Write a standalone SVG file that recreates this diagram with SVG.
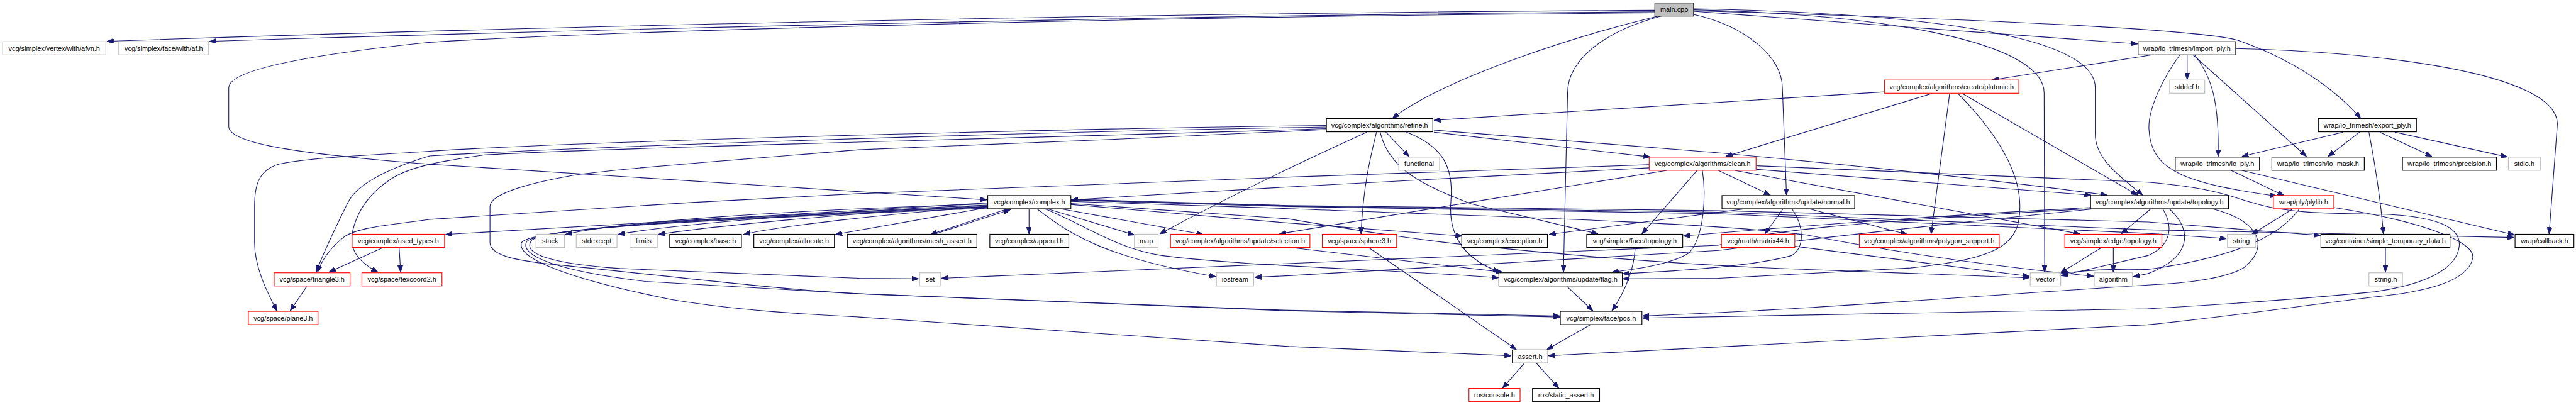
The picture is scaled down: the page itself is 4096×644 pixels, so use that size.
<svg xmlns="http://www.w3.org/2000/svg" width="4096" height="644" viewBox="0 0 4096 644">
<defs>
<style>
.node rect{fill:#ffffff;stroke:#000000;stroke-width:1.4}
.red rect{stroke:#ff0000}
.gray rect{stroke:#bfbfbf}
.main rect{fill:#bfbfbf}
.node text{font-family:"Liberation Sans",Arial,Helvetica,sans-serif;font-size:13.33px;text-anchor:middle;fill:#000000}
#edges path{fill:none;stroke:#191970;stroke-width:1.35;marker-end:url(#ah)}
</style>
<marker id="ah" viewBox="0 0 13 10" refX="13" refY="5" markerWidth="13" markerHeight="10" markerUnits="userSpaceOnUse" orient="auto"><path d="M0,0 L13,5 L0,10 z" fill="#191970" stroke="#191970" stroke-width="1"/></marker>
</defs>
<rect x="0" y="0" width="4096" height="644" fill="#ffffff"/>
<g transform="scale(0.821)">
<g id="edges">
<path id="e1" d="M3205,20 C2400,24 1200,45 207,80"/>
<path id="e2" d="M3205,23 C2400,28 1300,52 406,80"/>
<path id="e3" d="M3205,25 C2300,31 1200,58 832,82 C560,110 443,140 443,170 L443,245 C443,280 600,300 832,318 L1911,387"/>
<path id="e4" d="M3212,31 C3050,70 2800,150 2697,229"/>
<path id="e5" d="M3218,31 C3100,62 3036,120 3036,180 L3028,527"/>
<path id="e6" d="M3280,28 C3380,50 3452,110 3452,170 L3460,378"/>
<path id="e7" d="M3280,22 L4140,85"/>
<path id="e8" d="M3280,19 C3700,30 3959,90 3959,180 L3960,527"/>
<path id="e9" d="M3280,17 C3850,28 4058,90 4058,170 L4058,260 C4058,310 4110,345 4150,378"/>
<path id="e10" d="M3280,21 C3800,36 4250,55 4334,78 C4440,115 4520,170 4572,229"/>
<path id="e11" d="M4170,106 L3858,155"/>
<path id="e12" d="M4236,106 L4236,154"/>
<path id="e13" d="M4250,106 C4285,150 4298,200 4296,303"/>
<path id="e14" d="M4247,106 L4467,303"/>
<path id="e15" d="M4222,106 C4190,150 4160,210 4162,250 C4165,330 4230,355 4410,380"/>
<path id="e16" d="M4330,94 C4600,100 4952,140 4953,240 L4937,453"/>
<path id="e17" d="M3650,178 L2777,233"/>
<path id="e18" d="M3742,181 L3342,303"/>
<path id="e19" d="M3776,181 L3740,453"/>
<path id="e20" d="M3792,181 C3850,240 3912,320 3912,400 C3912,470 3880,500 3700,519 L3328,539 L3143,540"/>
<path id="e21" d="M3800,181 L4140,378"/>
<path id="e22" d="M2684,256 L2729,303"/>
<path id="e23" d="M2777,256 L3196,304"/>
<path id="e24" d="M2777,252 L3328,296 C3500,312 3800,340 4081,378"/>
<path id="e25" d="M2569,243 C2000,250 1100,275 832,293 C700,302 600,305 540,318 C500,330 493,360 493,400 L493,470 C493,520 520,570 536,602"/>
<path id="e26" d="M2569,246 C2000,255 1100,285 832,302 C740,330 690,360 674,392 C655,430 635,470 612,527"/>
<path id="e27" d="M2569,249 C2100,265 1200,285 938,300 C870,310 800,320 760,345 C720,370 700,400 690,425 C672,470 680,500 732,527"/>
<path id="e28" d="M2569,251 C2300,265 1900,280 1664,290 C1400,312 1150,330 1097,342 C1000,360 949,380 949,400 L949,470 C949,495 1000,505 1071,512 C1300,535 1500,560 1664,569 L2496,602 L3021,614"/>
<path id="e29" d="M2666,256 C2655,300 2640,360 2636,453"/>
<path id="e30" d="M2647,256 C2550,300 2400,370 2246,453"/>
<path id="e31" d="M2724,256 C2800,285 2815,330 2810,390 C2805,450 2830,500 2905,527"/>
<path id="e32" d="M2673,256 C2690,330 2760,360 2850,395 L3095,453"/>
<path id="e33" d="M3194,325 L2496,362 L2075,387"/>
<path id="e34" d="M3194,319 L2496,343 L1664,375 L1341,392 L832,425 C760,435 690,440 665,460 C640,480 625,500 615,527"/>
<path id="e35" d="M3328,330 L3429,378"/>
<path id="e36" d="M3228,330 L2846,392 L2478,453"/>
<path id="e37" d="M3287,330 L3180,453"/>
<path id="e38" d="M3297,330 C3305,380 3300,460 3271,490 C3240,510 3180,520 3122,527"/>
<path id="e39" d="M3401,328 L4050,378"/>
<path id="e40" d="M3360,330 L4028,453"/>
<path id="e41" d="M3401,321 L4160,353 C4300,365 4330,385 4361,392 C4420,412 4500,414 4620,415 C4720,420 4765,440 4763,475 C4760,520 4700,550 4600,565 C4450,580 4300,590 4160,598 L3181,616"/>
<path id="e42" d="M1913,393 L863,454"/>
<path id="e43" d="M1913,395 C1500,408 1200,430 1095,454"/>
<path id="e44" d="M1913,397 C1600,410 1300,435 1197,454"/>
<path id="e45" d="M1913,398 C1650,412 1380,438 1275,454"/>
<path id="e46" d="M1913,400 C1700,415 1500,440 1440,454"/>
<path id="e47" d="M1913,402 L1618,454"/>
<path id="e48" d="M1950,405 L1802,454"/>
<path id="e49" d="M1808,454 L1957,406"/>
<path id="e50" d="M1993,405 L1993,453"/>
<path id="e51" d="M2030,405 L2197,455"/>
<path id="e52" d="M2057,405 L2330,454"/>
<path id="e53" d="M2009,405 C2080,460 2150,500 2355,536"/>
<path id="e54" d="M2025,405 C2110,440 2160,480 2250,495 C2400,515 2700,522 2902,538"/>
<path id="e55" d="M2074,396 L2496,432 L2832,457"/>
<path id="e56" d="M2074,394 L2496,424 C2650,450 2780,470 2900,480 C3100,500 3300,515 3500,522 L3930,538"/>
<path id="e57" d="M2074,390 L2496,404 C2900,420 3300,430 3498,455 C3600,475 3800,510 4055,535"/>
<path id="e58" d="M2074,388 L2496,400 L3328,414 L4160,452 L4312,462"/>
<path id="e59" d="M2074,386 L2496,398 L3328,408 L4160,430 L4494,456"/>
<path id="e60" d="M2074,387 L2496,399 L3328,411 L4160,445 L4869,460"/>
<path id="e61" d="M1913,400 C1400,420 1060,440 1030,465 C1010,490 1060,510 1200,520 L1664,539 L1779,540"/>
<path id="e62" d="M1913,403 C1400,425 1030,440 1010,470 C1000,500 1100,540 1300,580 C1450,605 1600,610 1664,614 L2496,671 L2927,689"/>
<path id="e63" d="M1913,401 C1400,423 1045,440 1020,468 C1005,495 1080,525 1250,545 L1664,569 L2496,601 L3021,612"/>
<path id="e64" d="M3453,405 L3418,453"/>
<path id="e65" d="M3506,405 L3694,454"/>
<path id="e66" d="M3376,405 L3000,454"/>
<path id="e67" d="M3471,405 C3495,440 3495,480 3470,495 C3400,515 3250,525 3143,530"/>
<path id="e68" d="M4165,405 L4108,453"/>
<path id="e69" d="M4049,402 C3700,420 3400,445 3260,457"/>
<path id="e70" d="M4050,404 C3600,430 3418,445 3328,475 L1823,539"/>
<path id="e71" d="M4052,405 C3700,440 3450,470 3328,485 L2496,534 L2430,537"/>
<path id="e72" d="M4189,405 C4210,440 4205,475 4160,495 L3992,534"/>
<path id="e73" d="M4202,405 C4250,450 4240,500 4160,530 L4131,536"/>
<path id="e74" d="M4287,405 C4380,430 4395,480 4345,519 C4300,545 4200,550 4160,552 C3800,575 3500,600 3181,612"/>
<path id="e75" d="M4440,405 L4361,454"/>
<path id="e76" d="M4453,405 C4420,450 4350,495 4160,522 C4080,520 4030,524 3992,530"/>
<path id="e77" d="M4520,402 C4700,430 4795,470 4789,500 C4780,545 4700,565 4600,575 C4400,600 4300,615 4160,629 L2999,689"/>
<path id="e78" d="M4321,330 L4424,379"/>
<path id="e79" d="M4342,330 L4870,455"/>
<path id="e80" d="M4538,256 L4342,303"/>
<path id="e81" d="M4570,256 L4509,303"/>
<path id="e82" d="M4609,256 L4710,303"/>
<path id="e83" d="M4638,256 L4856,304"/>
<path id="e84" d="M4588,256 C4600,320 4612,400 4616,453"/>
<path id="e85" d="M4620,479 L4620,527"/>
<path id="e86" d="M743,479 L637,527"/>
<path id="e87" d="M773,479 L776,527"/>
<path id="e88" d="M594,555 L562,602"/>
<path id="e89" d="M3035,555 L3085,602"/>
<path id="e90" d="M3167,479 C3165,520 3150,560 3122,602"/>
<path id="e91" d="M3080,629 L2996,677"/>
<path id="e92" d="M2650,479 L2937,677"/>
<path id="e93" d="M2952,704 L2910,752"/>
<path id="e94" d="M2976,704 L3019,752"/>
<path id="e95" d="M4071,479 L3990,529"/>
<path id="e96" d="M4093,479 L4093,527"/>
<path id="e97" d="M3476,477 L3930,535"/>
<path id="e98" d="M2496,479 L2910,527"/>
</g>
<g id="n_main" class="node main"><rect x="3205" y="5.7" width="75" height="25.6"/><text x="3242.5" y="23.3">main.cpp</text></g>
<g id="n_afvn" class="node gray"><rect x="5" y="80.7" width="200" height="25.6"/><text x="105" y="98.3">vcg/simplex/vertex/with/afvn.h</text></g>
<g id="n_af" class="node gray"><rect x="230" y="80.7" width="174" height="25.6"/><text x="317" y="98.3">vcg/simplex/face/with/af.h</text></g>
<g id="n_import" class="node"><rect x="4141" y="80.7" width="189" height="25.6"/><text x="4235.5" y="98.3">wrap/io_trimesh/import_ply.h</text></g>
<g id="n_platonic" class="node red"><rect x="3650" y="155" width="260" height="25.6"/><text x="3780" y="172.6">vcg/complex/algorithms/create/platonic.h</text></g>
<g id="n_stddef" class="node gray"><rect x="4202" y="155" width="68" height="25.6"/><text x="4236" y="172.6">stddef.h</text></g>
<g id="n_refine" class="node"><rect x="2569" y="229.7" width="206" height="25.6"/><text x="2672" y="247.3">vcg/complex/algorithms/refine.h</text></g>
<g id="n_export" class="node"><rect x="4490" y="229.7" width="190" height="25.6"/><text x="4585" y="247.3">wrap/io_trimesh/export_ply.h</text></g>
<g id="n_functional" class="node gray"><rect x="2709" y="304.3" width="79" height="25.6"/><text x="2748.5" y="321.9">functional</text></g>
<g id="n_clean" class="node red"><rect x="3194" y="304.3" width="207" height="25.6"/><text x="3297.5" y="321.9">vcg/complex/algorithms/clean.h</text></g>
<g id="n_io_ply" class="node"><rect x="4213" y="304.3" width="163" height="25.6"/><text x="4294.5" y="321.9">wrap/io_trimesh/io_ply.h</text></g>
<g id="n_io_mask" class="node"><rect x="4400" y="304.3" width="179" height="25.6"/><text x="4489.5" y="321.9">wrap/io_trimesh/io_mask.h</text></g>
<g id="n_precision" class="node"><rect x="4653" y="304.3" width="182" height="25.6"/><text x="4744" y="321.9">wrap/io_trimesh/precision.h</text></g>
<g id="n_stdio" class="node gray"><rect x="4858" y="304.3" width="62" height="25.6"/><text x="4889" y="321.9">stdio.h</text></g>
<g id="n_complex" class="node"><rect x="1913" y="378.7" width="161" height="25.6"/><text x="1993.5" y="396.3">vcg/complex/complex.h</text></g>
<g id="n_normal" class="node"><rect x="3335" y="378.7" width="257" height="25.6"/><text x="3463.5" y="396.3">vcg/complex/algorithms/update/normal.h</text></g>
<g id="n_utopo" class="node"><rect x="4049" y="378.7" width="267" height="25.6"/><text x="4182.5" y="396.3">vcg/complex/algorithms/update/topology.h</text></g>
<g id="n_plylib" class="node red"><rect x="4403" y="378.7" width="117" height="25.6"/><text x="4461.5" y="396.3">wrap/ply/plylib.h</text></g>
<g id="n_used_types" class="node red"><rect x="682" y="453.7" width="179" height="25.6"/><text x="771.5" y="471.3">vcg/complex/used_types.h</text></g>
<g id="n_stack" class="node gray"><rect x="1038" y="453.7" width="55" height="25.6"/><text x="1065.5" y="471.3">stack</text></g>
<g id="n_stdexcept" class="node gray"><rect x="1116" y="453.7" width="79" height="25.6"/><text x="1155.5" y="471.3">stdexcept</text></g>
<g id="n_limits" class="node gray"><rect x="1220" y="453.7" width="53" height="25.6"/><text x="1246.5" y="471.3">limits</text></g>
<g id="n_base" class="node"><rect x="1297" y="453.7" width="139" height="25.6"/><text x="1366.5" y="471.3">vcg/complex/base.h</text></g>
<g id="n_allocate" class="node"><rect x="1460" y="453.7" width="156" height="25.6"/><text x="1538" y="471.3">vcg/complex/allocate.h</text></g>
<g id="n_mesh_assert" class="node"><rect x="1641" y="453.7" width="251" height="25.6"/><text x="1766.5" y="471.3">vcg/complex/algorithms/mesh_assert.h</text></g>
<g id="n_append" class="node"><rect x="1917" y="453.7" width="153" height="25.6"/><text x="1993.5" y="471.3">vcg/complex/append.h</text></g>
<g id="n_map" class="node gray"><rect x="2197" y="453.7" width="46" height="25.6"/><text x="2220" y="471.3">map</text></g>
<g id="n_selection" class="node red"><rect x="2267" y="453.7" width="270" height="25.6"/><text x="2402" y="471.3">vcg/complex/algorithms/update/selection.h</text></g>
<g id="n_sphere3" class="node red"><rect x="2561" y="453.7" width="144" height="25.6"/><text x="2633" y="471.3">vcg/space/sphere3.h</text></g>
<g id="n_exception" class="node"><rect x="2831" y="453.7" width="166" height="25.6"/><text x="2914" y="471.3">vcg/complex/exception.h</text></g>
<g id="n_ftopo" class="node"><rect x="3073" y="453.7" width="186" height="25.6"/><text x="3166" y="471.3">vcg/simplex/face/topology.h</text></g>
<g id="n_matrix44" class="node red"><rect x="3334" y="453.7" width="142" height="25.6"/><text x="3405" y="471.3">vcg/math/matrix44.h</text></g>
<g id="n_polysup" class="node red"><rect x="3601" y="453.7" width="271" height="25.6"/><text x="3736.5" y="471.3">vcg/complex/algorithms/polygon_support.h</text></g>
<g id="n_etopo" class="node red"><rect x="3999" y="453.7" width="188" height="25.6"/><text x="4093" y="471.3">vcg/simplex/edge/topology.h</text></g>
<g id="n_string" class="node gray"><rect x="4314" y="453.7" width="54" height="25.6"/><text x="4341" y="471.3">string</text></g>
<g id="n_simple_temp" class="node"><rect x="4495" y="453.7" width="250" height="25.6"/><text x="4620" y="471.3">vcg/container/simple_temporary_data.h</text></g>
<g id="n_callback" class="node"><rect x="4871" y="453.7" width="114" height="25.6"/><text x="4928" y="471.3">wrap/callback.h</text></g>
<g id="n_triangle3" class="node red"><rect x="531" y="528.3" width="147" height="25.6"/><text x="604.5" y="545.9">vcg/space/triangle3.h</text></g>
<g id="n_texcoord2" class="node red"><rect x="701" y="528.3" width="155" height="25.6"/><text x="778.5" y="545.9">vcg/space/texcoord2.h</text></g>
<g id="n_set" class="node gray"><rect x="1781" y="528.3" width="41" height="25.6"/><text x="1801.5" y="545.9">set</text></g>
<g id="n_iostream" class="node gray"><rect x="2356" y="528.3" width="72" height="25.6"/><text x="2392" y="545.9">iostream</text></g>
<g id="n_flag" class="node"><rect x="2903" y="528.3" width="239" height="25.6"/><text x="3022.5" y="545.9">vcg/complex/algorithms/update/flag.h</text></g>
<g id="n_vector" class="node gray"><rect x="3932" y="528.3" width="59" height="25.6"/><text x="3961.5" y="545.9">vector</text></g>
<g id="n_algorithm" class="node gray"><rect x="4056" y="528.3" width="74" height="25.6"/><text x="4093" y="545.9">algorithm</text></g>
<g id="n_string_h" class="node gray"><rect x="4588" y="528.3" width="65" height="25.6"/><text x="4620.5" y="545.9">string.h</text></g>
<g id="n_plane3" class="node red"><rect x="481" y="603" width="135" height="25.6"/><text x="548.5" y="620.6">vcg/space/plane3.h</text></g>
<g id="n_pos" class="node"><rect x="3022" y="603" width="158" height="25.6"/><text x="3101" y="620.6">vcg/simplex/face/pos.h</text></g>
<g id="n_assert" class="node"><rect x="2929" y="677.7" width="69" height="25.6"/><text x="2963.5" y="695.3">assert.h</text></g>
<g id="n_console" class="node red"><rect x="2845" y="752.3" width="99" height="25.6"/><text x="2894.5" y="769.9">ros/console.h</text></g>
<g id="n_static_assert" class="node"><rect x="2968" y="752.3" width="130" height="25.6"/><text x="3033" y="769.9">ros/static_assert.h</text></g>
</g>
</svg>
